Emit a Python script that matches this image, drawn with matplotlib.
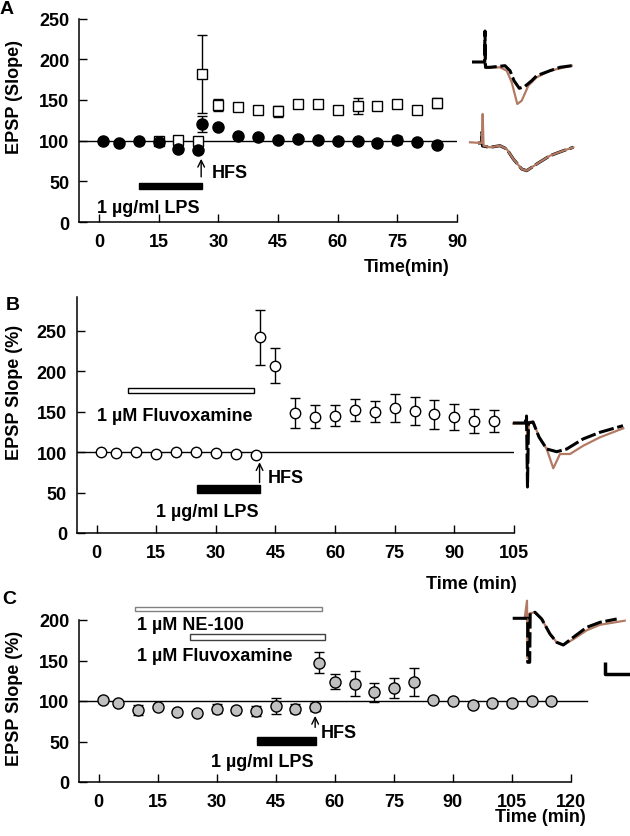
import matplotlib.pyplot as plt

plt.rcParams['font.family'] = ['Liberation Sans', 'DejaVu Sans']
plt.rcParams['font.weight'] = 'bold'
plt.rcParams['axes.labelweight'] = 'bold'

# ---- panel A : LPS (filled) vs control (open squares)
a_lps_t = [1, 5, 10, 15, 20, 25, 26, 30, 35, 40, 45, 50, 55, 60, 65, 70, 75, 80, 85]
a_lps_v = [100, 97, 99, 98, 90, 88.5, 120, 117, 106, 104, 101, 102, 101, 100, 99, 97, 101, 98, 95]
a_lps_e = [1, 1, 1, 1, 2, 2, 10, 2, 1, 1, 1, 1, 1, 1, 1, 4, 5, 2, 1]
a_ctl_t = [15, 20, 25, 26, 30, 35, 40, 45, 50, 55, 60, 65, 70, 75, 80, 85]
a_ctl_v = [100, 101, 99, 182, 143.5, 141.5, 138, 136, 145, 145, 137, 142.5, 143, 144.5, 137, 146]
a_ctl_e = [1, 1, 1, 48, 7, 2, 2, 7, 2, 2, 2, 10, 5, 2, 2, 6]
a_lps_bar = [10, 26]

# ---- panel B : fluvoxamine + LPS
b_t = [1, 5, 10, 15, 20, 25, 30, 35, 40, 41, 45, 50, 55, 60, 65, 70, 75, 80, 85, 90, 95, 100]
b_v = [100, 99.5, 100.5, 98, 100, 100, 99.5, 98, 96, 242, 207, 148.5, 144, 145, 152, 150, 155, 151, 147, 143, 138.6, 138.6]
b_e = [0, 0, 0, 0, 0, 0, 0, 2, 0, 34, 22, 18.5, 14, 13, 14, 13, 17.5, 17.5, 18, 16, 15, 14]
b_fluv_bar = [8, 39.7]
b_lps_bar = [25.3, 41]

# ---- panel C : NE-100 + fluvoxamine + LPS
c_t = [1, 5, 10, 15, 20, 25, 30, 35, 40, 45, 50, 55, 56, 60, 65, 70, 75, 80, 85, 90, 95, 100, 105, 110, 115]
c_v = [101, 97.3, 89, 93, 86.6, 85, 90.7, 89, 88, 94, 90.7, 93, 147, 124, 121.6, 110.5, 116, 123.7,
       101, 100.6, 95.3, 98, 98, 99.8, 99.8]
c_e = [1, 1, 6, 2, 1, 1, 5, 4, 6, 10, 5, 5, 13, 9, 15, 12, 12, 17.5, 1, 1, 1, 1, 1, 1, 1]
c_ne_bar = [9.3, 56.7]
c_fluv_bar = [23.3, 57.4]
c_lps_bar = [40.2, 55.3]

# ---- example traces (x: sample, y: relative amplitude)
trA1_k_x = [0, 10.7, 12.5, 13, 13.5, 18, 33, 38, 42, 47.3, 53, 59.7, 64.7, 78, 88, 99.7]
trA1_k_y = [0, 0, 0, 31, -5.3, -5.3, -3.7, -8.7, -18.7, -26.3, -24.3, -18.7, -13.7, -8.7, -5.3, -3.7]
trA1_r_x = [12.5, 13, 13.5, 28, 34.7, 39.7, 45.3, 49.7, 56.3, 64.7, 78, 99.7]
trA1_r_y = [-2, 20, -6, -5.3, -8.7, -20.3, -42, -38.7, -23.7, -15.3, -8.7, -3.7]
trA2_k_x = [8, 11.7, 12, 12.5, 20, 30, 36.7, 43.3, 51.7, 56.7, 66.7, 80, 93.3, 103.3]
trA2_k_y = [0, 0, 11, -3, -4.3, -2.7, -6, -16, -26, -27.7, -21, -12.7, -7.7, -4.3]
trA2_r_x = [0, 11.7, 12.7, 13.5, 20, 30, 36.7, 43.3, 51.7, 56.7, 66.7, 80, 93.3, 103.3]
trA2_r_y = [0.7, 0, 29, -2.7, -4.3, -2.7, -6, -16, -26, -27.7, -21, -12.7, -7.7, -4.3]
trB_k_x = [0, 12, 13.5, 14.5, 15.5, 20, 26, 33.7, 43.7, 53.7, 70, 87, 110]
trB_k_y = [0, 0, 7, -64, 0, 1, -14, -26, -28.7, -26, -16, -9.3, -2.7]
trB_r_x = [0, 12, 13.5, 14.5, 16, 20.3, 26, 33.7, 40.3, 47, 57, 70.3, 87, 110.3]
trB_r_y = [-0.5, -0.5, 4, -20, 1, 1.3, -14, -26, -45.3, -31, -31, -22.7, -14.3, -5.3]
trC_k_x = [0, 12.3, 15, 15, 17, 17.5, 22.3, 29, 37.3, 44, 50.6, 60.6, 74, 87.3, 104]
trC_k_y = [0, 0, 0, -44, -44, 5, 6, -0.7, -15.7, -24, -26.7, -19, -9, -4, -0.7]
trC_r_x = [12, 14.3, 14.8, 17, 22.3, 29, 37.3, 44, 50.6, 60.6, 74, 87.3, 112]
trC_r_y = [0, 17.6, -40, 5, 6, -0.7, -15.7, -24, -26.7, -21, -12, -6.5, -2.4]
scale_x = [92.3, 92.3, 117.3]
scale_y = [-43.7, -55.7, -55.7]

BROWN = '#b37a63'
FS = 13
W, H = 630, 837
fig = plt.figure(figsize=(6.3, 8.37), dpi=100)


def box(l, t, r, b):
    return [l / W, 1 - b / H, (r - l) / W, (b - t) / H]


def style(ax, xmax, ymax, xticks, yticks):
    for s in ['top', 'right']:
        ax.spines[s].set_visible(False)
    for s in ['left', 'bottom']:
        ax.spines[s].set_linewidth(1.1)
    ax.set_xlim(-5, xmax)
    ax.set_ylim(0, ymax)
    ax.set_xticks(xticks)
    ax.set_yticks(yticks)
    ax.tick_params(direction='in', length=6, width=1, labelsize=FS)
    ax.tick_params(axis='x', pad=8)
    ax.tick_params(axis='y', pad=7)


def labels(ax, ylab, xlab, ylab_xy, xlab_xy):
    ax.set_ylabel(ylab, fontsize=FS)
    ax.yaxis.set_label_coords(*ylab_xy)
    ax.set_xlabel(xlab, fontsize=FS)
    ax.xaxis.set_label_coords(*xlab_xy)
    ax.xaxis.label.set_ha('right')
    ax.xaxis.label.set_va('center')


def drug_bar(ax, span, y, h, fc, ec='black'):
    ax.barh(y, span[1] - span[0], left=span[0], height=h, facecolor=fc,
            edgecolor=ec, linewidth=1, clip_on=False, zorder=3)


def hfs(ax, t, y0, y1, tx, ty):
    ax.annotate('', xy=(t, y1), xytext=(t, y0),
                arrowprops=dict(arrowstyle='->', lw=1, color='black', mutation_scale=12))
    ax.text(tx, ty, 'HFS', fontsize=FS, va='center', ha='left')


def trace_axes(l, t, r, b, x0, y0):
    ax = fig.add_axes(box(l, t, r, b))
    ax.set_xlim(l - x0, r - x0)
    ax.set_ylim(-(b - y0), -(t - y0))
    ax.axis('off')
    return ax


# ================= A
axA = fig.add_axes(box(79, 19.5, 457, 223))
style(axA, 90, 250, [0, 15, 30, 45, 60, 75, 90], [0, 50, 100, 150, 200, 250])
axA.plot([-5, 90], [100, 100], color='black', lw=1, zorder=1)
axA.errorbar(a_ctl_t, a_ctl_v, yerr=a_ctl_e, fmt='none', ecolor='black', elinewidth=1, capsize=3.5, zorder=2)
axA.plot(a_ctl_t, a_ctl_v, 's', ms=7, mfc='white', mec='black', mew=1, zorder=3)
axA.errorbar(a_lps_t, a_lps_v, yerr=a_lps_e, fmt='none', ecolor='black', elinewidth=1, capsize=3.5, zorder=4)
axA.plot(a_lps_t, a_lps_v, 'o', ms=8, mfc='black', mec='black', zorder=5)
drug_bar(axA, a_lps_bar, 44, 7.5, 'black')
axA.text(-0.5, 18, '1 µg/ml LPS', fontsize=FS, va='center', ha='left')
hfs(axA, 25.7, 52, 81, 28.3, 61)
labels(axA, 'EPSP (Slope)', 'Time(min)', ((23 - 79) / 378, 0.62), ((450 - 79) / 378, -0.221))
fig.text(7 / W, 1 - 9 / H, 'A', fontsize=14, ha='center', va='center')

# ================= B
axB = fig.add_axes(box(76.7, 298, 514, 534))
style(axB, 105, 292, [0, 15, 30, 45, 60, 75, 90, 105], [0, 50, 100, 150, 200, 250])
axB.plot([-5, 105], [100, 100], color='black', lw=1, zorder=1)
axB.errorbar(b_t, b_v, yerr=b_e, fmt='none', ecolor='black', elinewidth=1, capsize=3.5, zorder=2)
axB.plot(b_t, b_v, 'o', ms=7.5, mfc='white', mec='black', mew=1, zorder=3)
drug_bar(axB, b_fluv_bar, 176, 6, 'white')
drug_bar(axB, b_lps_bar, 55, 10, 'black')
axB.text(0, 145, '1 µM Fluvoxamine', fontsize=FS, va='center', ha='left')
axB.text(15, 27, '1 µg/ml LPS', fontsize=FS, va='center', ha='left')
hfs(axB, 41, 59, 91, 43, 69)
labels(axB, 'EPSP Slope (%)', 'Time (min)', ((23 - 76.7) / 437.3, 0.60), ((517 - 76.7) / 437.3, -0.216))
fig.text(13 / W, 1 - 305 / H, 'B', fontsize=14, ha='center', va='center')

# ================= C
axC = fig.add_axes(box(79, 621, 571, 783))
style(axC, 120, 200, [0, 15, 30, 45, 60, 75, 90, 105, 120], [0, 50, 100, 150, 200])
axC.plot([-5, 124], [100, 100], color='black', lw=1, zorder=1, clip_on=False)
axC.errorbar(c_t, c_v, yerr=c_e, fmt='none', ecolor='black', elinewidth=1, capsize=3.5, zorder=2)
axC.plot(c_t, c_v, 'o', ms=8, mfc='#c0c0c0', mec='black', mew=1, zorder=3)
drug_bar(axC, c_ne_bar, 214, 5, 'white', ec='#808080')
drug_bar(axC, c_fluv_bar, 179.5, 7.5, 'white', ec='#404040')
drug_bar(axC, c_lps_bar, 50.7, 9, 'black')
axC.text(9.7, 195, '1 µM NE-100', fontsize=FS, va='center', ha='left')
axC.text(9.7, 156, '1 µM Fluvoxamine', fontsize=FS, va='center', ha='left')
axC.text(28.6, 25, '1 µg/ml LPS', fontsize=FS, va='center', ha='left')
hfs(axC, 55, 64, 85, 56.3, 61)
labels(axC, 'EPSP Slope (%)', 'Time (min)', ((23 - 79) / 492, 0.52), ((586 - 79) / 492, -0.216))
fig.text(9 / W, 1 - 600 / H, 'C', fontsize=14, ha='center', va='center')

# ================= traces
dash = dict(color='black', lw=2.2, dashes=(5, 1.2), zorder=3)
t1 = trace_axes(466, 25, 580, 112, 472, 63)
t1.plot(trA1_r_x, trA1_r_y, color=BROWN, lw=1.6, zorder=2)
t1.plot(trA1_k_x, trA1_k_y, **dash)

t2 = trace_axes(466, 110, 580, 178, 470, 144)
t2.plot(trA2_k_x, trA2_k_y, **dash)
t2.plot(trA2_r_x, trA2_r_y, color=BROWN, lw=1.6, zorder=4)

t3 = trace_axes(508, 410, 628, 495, 513, 424)
t3.plot(trB_r_x, trB_r_y, color=BROWN, lw=1.6, zorder=2)
t3.plot(trB_k_x, trB_k_y, **dash)

t4 = trace_axes(505, 595, 635, 682, 512.7, 619.3)
t4.plot(trC_r_x, trC_r_y, color=BROWN, lw=1.6, zorder=2)
t4.plot(trC_k_x, trC_k_y, **dash)
t4.plot(scale_x, scale_y, color='black', lw=2.5, solid_capstyle='butt')

fig.savefig('out.png', dpi=100)
